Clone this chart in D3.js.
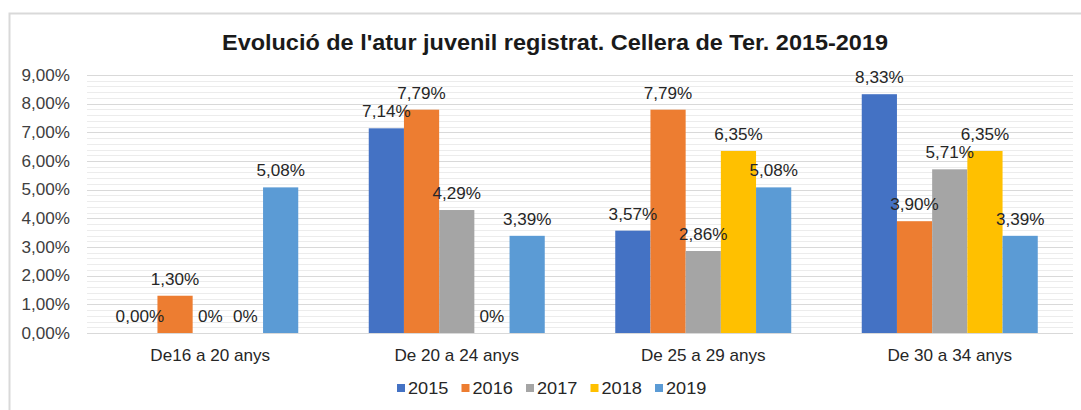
<!DOCTYPE html>
<html>
<head>
<meta charset="utf-8">
<script src="https://cdn.jsdelivr.net/npm/d3@7"></script>
<style>
  body { margin: 0; background: #fff; }
  text { font-family: "Liberation Sans", Arial, sans-serif; }
</style>
</head>
<body>
<div id="chart"></div>
<script>
// chart data
var categories = ["De16 a 20 anys", "De 20 a 24 anys", "De 25 a 29 anys", "De 30 a 34 anys"];
var years = ["2015", "2016", "2017", "2018", "2019"];
var values2015 = [0.00, 7.14, 3.57, 8.33];
var values2016 = [1.30, 7.79, 7.79, 3.90];
var values2017 = [0.00, 4.29, 2.86, 5.71];
var values2018 = [0.00, 0.00, 6.35, 6.35];
var values2019 = [5.08, 3.39, 5.08, 3.39];
var yTicks = [0, 1, 2, 3, 4, 5, 6, 7, 8, 9];
var colors = ["#4472C4", "#ED7D31", "#A5A5A5", "#FFC000", "#5B9BD5"];

var seriesValues = [values2015, values2016, values2017, values2018, values2019];

var width = 1081, height = 410;
var sx = 1.07; // text in the picture is a bit wider than Arial

var svg = d3.select("#chart").append("svg")
    .attr("width", width)
    .attr("height", height);

// outer frame
svg.append("path")
    .attr("d", "M9.5," + height + "V13.5H" + width)
    .attr("fill", "none")
    .attr("stroke", "#d9d9d9")
    .attr("stroke-width", 2);

var x0 = d3.scaleBand().domain(categories).range([87, 1073])
    .paddingInner(0.286).paddingOuter(0.143);
var x1 = d3.scaleBand().domain(years).range([0, x0.bandwidth()]);
var y = d3.scaleLinear().domain([0, 9]).range([333, 75]);

function label(x, yy, str, size, anchor, color, weight) {
    return svg.append("text")
        .attr("transform", "translate(" + x + "," + yy + ") scale(" + sx + ",1)")
        .attr("text-anchor", anchor)
        .attr("font-size", size)
        .attr("font-weight", weight || "normal")
        .attr("fill", color)
        .text(str);
}

// minor gridlines every 0.2
var minor = d3.range(0, 45).map(function (i) { return i / 5; }).filter(function (v) { return v % 1 !== 0; });
svg.selectAll(".minor").data(minor).enter().append("line")
    .attr("x1", 87).attr("x2", 1073)
    .attr("y1", function (d) { return Math.round(y(d)) + 0.5; })
    .attr("y2", function (d) { return Math.round(y(d)) + 0.5; })
    .attr("stroke", "#ececec");

// major gridlines
svg.selectAll(".major").data(yTicks).enter().append("line")
    .attr("x1", 87).attr("x2", 1073)
    .attr("y1", function (d) { return Math.round(y(d)) + 0.5; })
    .attr("y2", function (d) { return Math.round(y(d)) + 0.5; })
    .attr("stroke", "#d9d9d9");

// y tick labels
yTicks.forEach(function (t) {
    label(70, y(t) + 5.5, d3.format(".2f")(t).replace(".", ",") + "%", 16, "end", "#404040");
});

// bars
years.forEach(function (yr, s) {
    svg.selectAll(".bar" + yr).data(seriesValues[s]).enter().append("rect")
        .attr("x", function (d, i) { return x0(categories[i]) + x1(yr); })
        .attr("y", function (d) { return y(d); })
        .attr("width", x1.bandwidth())
        .attr("height", function (d) { return y(0) - y(d); })
        .attr("fill", colors[s]);
});

// data labels
years.forEach(function (yr, s) {
    seriesValues[s].forEach(function (v, i) {
        var txt = (v === 0 && !(s === 0 && i === 0)) ? "0%" : d3.format(".2f")(v).replace(".", ",") + "%";
        label(x0(categories[i]) + x1(yr) + x1.bandwidth() / 2, y(v) - 11, txt, 16, "middle", "#262626");
    });
});

// category labels
categories.forEach(function (c) {
    label(x0(c) + x0.bandwidth() / 2, 361, c, 16, "middle", "#262626");
});

// title
svg.append("text")
    .attr("x", 555).attr("y", 50)
    .attr("text-anchor", "middle")
    .attr("font-size", 22)
    .attr("font-weight", "bold")
    .attr("fill", "#1a1a1a")
    .attr("textLength", 666)
    .attr("lengthAdjust", "spacingAndGlyphs")
    .text("Evolució de l'atur juvenil registrat. Cellera de Ter. 2015-2019");

// legend
var legend = svg.selectAll(".legend").data(years).enter().append("g")
    .attr("transform", function (d, i) { return "translate(" + (397 + i * 64.5) + ",388)"; });
legend.append("rect")
    .attr("x", 0).attr("y", -4)
    .attr("width", 8).attr("height", 8)
    .attr("fill", function (d, i) { return colors[i]; });
legend.append("text")
    .attr("transform", "translate(11,6) scale(" + sx + ",1)")
    .attr("font-size", 17)
    .attr("fill", "#262626")
    .text(function (d) { return d; });
</script>
</body>
</html>
